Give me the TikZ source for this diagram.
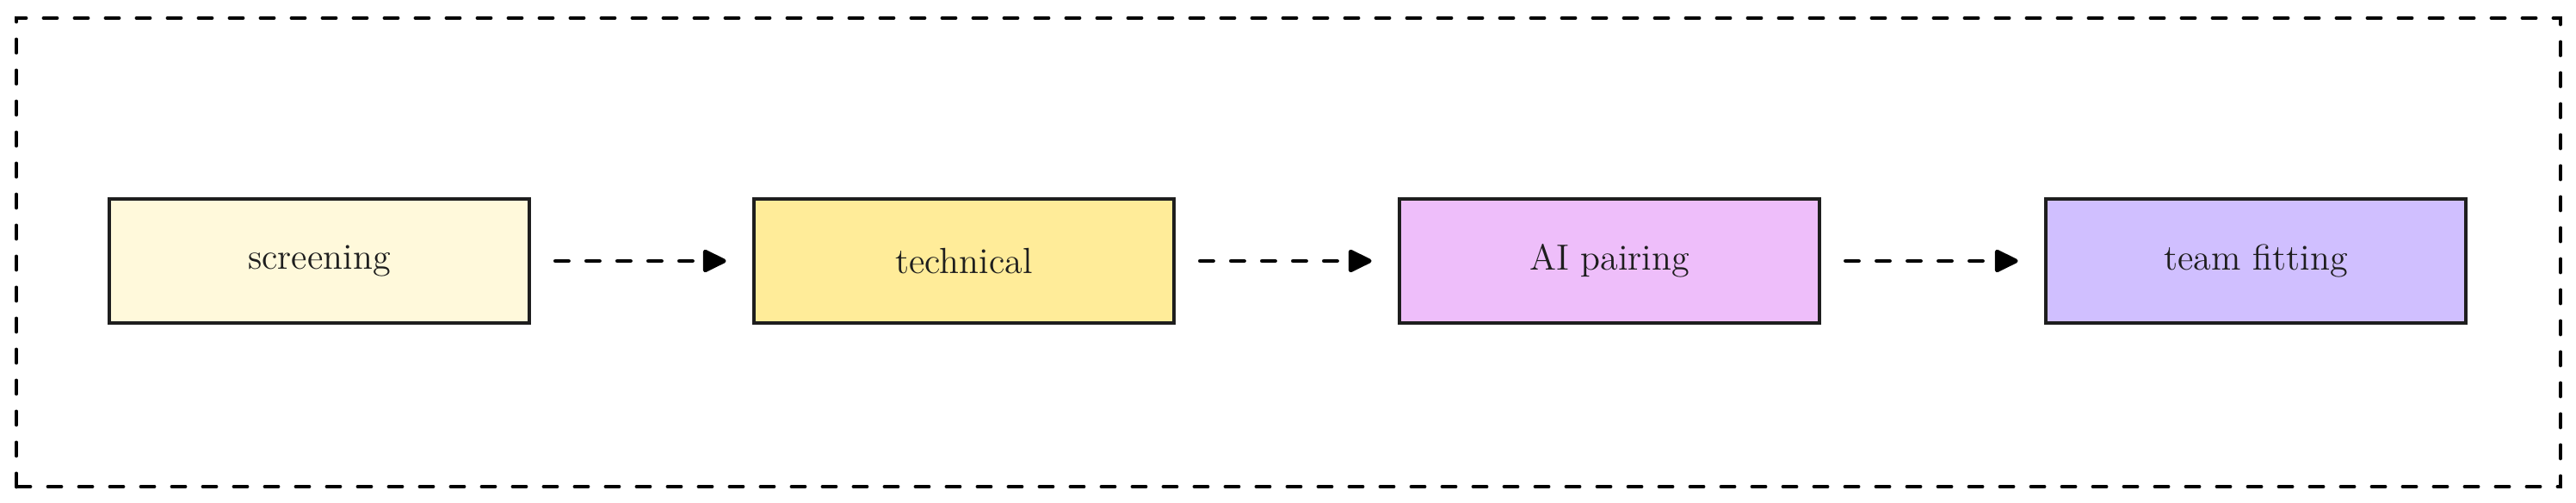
\documentclass[tikz,border=0pt]{standalone}
\usepackage{tikz}
\usetikzlibrary{arrows.meta}

\definecolor{inkline}{HTML}{1E1E1E}
\definecolor{fillscreen}{HTML}{FFF9DB}
\definecolor{filltech}{HTML}{FFEC99}
\definecolor{fillpair}{HTML}{EEBEFA}
\definecolor{fillteam}{HTML}{D0BFFF}

\tikzset{
  stage/.style={draw=inkline, line width=1.4pt, minimum width=4.88cm, minimum height=1.44cm, font=\large, text=inkline},
  flow/.style={-{Triangle[length=0.3cm,width=0.28cm,round]}, line width=1.4pt, line cap=round, dash pattern=on 0.15cm off 0.21cm, shorten <=0.28cm, shorten >=0.3cm},
}

\begin{document}
\begin{tikzpicture}
    \useasboundingbox (0,0) rectangle (29.93,5.84);
    \draw[line width=1.4pt, line cap=round, dash pattern=on 0.15cm off 0.21cm] (0.19,0.19) rectangle (29.75,5.63);
    \foreach \name/\x/\col/\txt in {screen/3.71/fillscreen/screening, tech/11.20/filltech/technical, pair/18.70/fillpair/AI pairing, team/26.21/fillteam/team fitting} {
      \node[stage, fill=\col] (\name) at (\x,2.81) {\txt};
    }
    \draw[flow] (screen) -- (tech);
    \draw[flow] (tech) -- (pair);
    \draw[flow] (pair) -- (team);
  \end{tikzpicture}
\end{document}
